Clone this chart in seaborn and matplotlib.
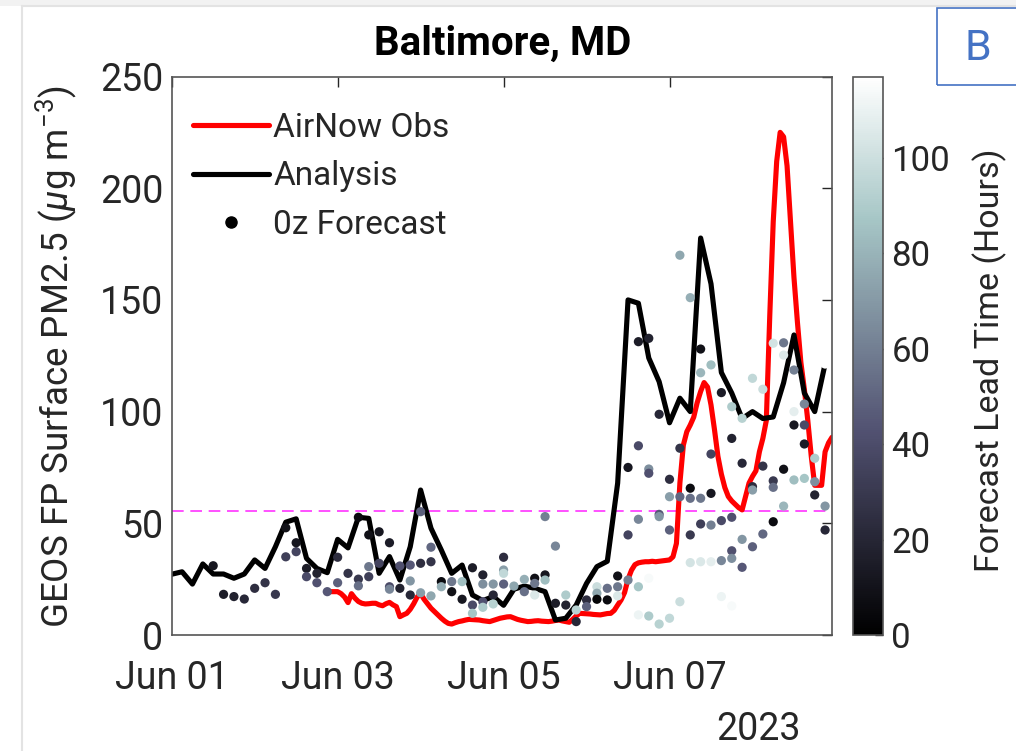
import pandas as pd
import matplotlib
matplotlib.use("Agg")
import matplotlib.pyplot as plt
import matplotlib.dates as mdates
from matplotlib.colors import Normalize
from matplotlib.cm import ScalarMappable
from matplotlib.lines import Line2D
from matplotlib.patches import Rectangle
import seaborn as sns

# data
analysis_start = "2023-06-01 00:00"   # 3-hourly GEOS FP analysis
analysis_pm25 = [27.2, 28.3, 22.8, 31.8, 27.3, 27.3, 25.4, 27.3, 33.6, 29.8,
                 39.5, 50.5, 52.0, 34.3, 29.8, 27.9, 42.8, 39.0, 52.7, 52.2,
                 27.6, 35.1, 24.6, 39.5, 64.9, 47.8, 38.0, 27.6, 31.3, 17.9,
                 15.4, 17.2, 13.3, 20.5, 21.9, 20.9, 19.4, 6.7, 7.5, 13.4,
                 23.1, 30.6, 33.0, 68.0, 150.0, 148.5, 124.0, 113.4, 95.0, 106.0,
                 100.0, 177.7, 157.2, 117.5, 108.3, 96.9, 100.0, 96.9, 97.6, 112.9,
                 134.3, 108.3, 100.0, 121.3]

obs_start = "2023-06-02 22:00"        # hourly AirNow observations
obs_pm25 = [19.4, 19.4, 19.4, 18.5, 17.0, 14.5, 18.5, 16.5, 15.0, 14.2,
            13.9, 14.0, 14.2, 14.2, 13.5, 13.1, 14.0, 14.6, 13.5, 12.7,
            8.2, 9.0, 9.7, 11.5, 14.0, 17.0, 18.5, 16.0, 14.0, 12.0,
            10.5, 9.0, 7.5, 6.2, 5.2, 4.9, 5.5, 6.0, 6.3, 6.7,
            7.0, 6.9, 6.8, 6.7, 6.4, 6.2, 6.0, 6.5, 7.0, 7.5,
            7.8, 8.1, 8.2, 7.6, 7.0, 6.6, 6.3, 6.0, 6.1, 6.3,
            6.4, 6.2, 6.1, 6.0, 6.2, 6.5, 6.7, 6.3, 6.0, 5.7,
            7.0, 8.5, 9.7, 9.6, 9.5, 9.4, 9.2, 9.1, 9.0, 9.3,
            9.6, 9.7, 11.0, 13.4, 15.7, 19.0, 25.0, 29.0, 31.5, 32.3,
            32.6, 32.8, 32.8, 33.0, 32.8, 33.0, 33.2, 33.4, 33.6, 35.0,
            41.0, 68.0, 85.0, 91.0, 94.0, 97.5, 104.0, 109.0, 113.0, 111.0,
            103.0, 92.0, 80.0, 72.0, 66.0, 62.0, 60.0, 58.5, 57.0, 56.0,
            62.0, 68.0, 71.0, 73.5, 82.0, 88.0, 96.0, 143.0, 185.0, 212.0,
            225.0, 223.0, 210.0, 185.0, 160.0, 140.0, 122.0, 110.0, 96.0, 80.0,
            67.0, 67.0, 67.0, 82.0, 86.0, 88.5]

# 0z forecasts: valid hour since Jun 01 00z, value, lead time (hours)
fc_hour = [12, 15, 18, 21, 24, 27, 30, 33, 33, 36, 36, 39, 39, 42, 42, 45,
           48, 48, 51, 54, 54, 54, 57, 57, 57, 60, 60, 63, 63, 63, 66, 66,
           69, 69, 69, 72, 72, 72, 75, 75, 75, 78, 78, 81, 81, 84, 84, 87,
           87, 87, 90, 90, 90, 90, 93, 93, 93, 96, 96, 96, 96, 99, 102, 102,
           105, 105, 105, 108, 108, 108, 111, 111, 114, 114, 117, 117, 120, 120,
           123, 123, 123, 126, 126, 129, 129, 129, 132, 132, 132,
           135, 135, 135, 135, 135, 138, 138, 138, 138, 138, 141, 141, 141, 141,
           144, 144, 144, 144, 147, 147, 147, 147, 150, 150, 150, 150, 150,
           153, 153, 153, 153, 153, 156, 156, 156, 156, 156, 159, 159, 159, 159,
           162, 162, 162, 162, 162, 162, 165, 165, 165, 165, 168, 168, 168, 168,
           171, 171, 171, 174, 174, 174, 174, 177, 177, 177, 177,
           180, 180, 180, 180, 183, 183, 183, 183, 186, 186, 186, 189, 189, 189]
fc_pm25 = [31.0, 18.2, 17.2, 16.1, 20.9, 23.4, 18.2, 35.0, 48.0, 37.3, 41.3, 29.8, 26.1, 27.6, 23.4, 19.4,
           34.8, 23.4, 27.6, 52.7, 25.0, 22.0, 44.8, 30.6, 26.1, 46.2, 32.1, 41.3, 21.6, 20.5, 30.9, 20.9,
           31.3, 24.2, 17.9, 32.1, 55.2, 18.9, 39.3, 32.8, 17.5, 23.9, 21.6, 23.9, 19.4, 23.9, 16.0, 30.1,
           13.4, 9.7, 26.9, 22.8, 14.9, 12.4, 22.8, 17.9, 13.9, 34.8, 29.1, 27.6, 22.8, 21.9, 24.9, 19.4,
           25.4, 23.1, 17.9, 53.0, 26.9, 24.6, 39.8, 14.2, 17.9, 13.4, 6.0, 11.2, 15.7, 12.7,
           21.6, 18.7, 16.0, 20.9, 15.7, 26.4, 21.6, 17.5, 75.0, 44.8, 24.6,
           131.3, 84.7, 51.8, 21.6, 9.0, 132.8, 74.3, 72.4, 25.4, 8.5, 98.8, 54.0, 53.0, 4.9,
           69.7, 61.9, 47.0, 7.5, 170.0, 83.6, 61.9, 14.9, 151.0, 65.7, 61.2, 44.8, 32.4,
           128.0, 117.4, 61.2, 49.7, 32.8, 120.9, 63.4, 81.0, 49.2, 32.8, 108.5, 51.2, 33.3, 17.2,
           102.2, 88.0, 52.7, 37.7, 34.3, 13.0, 97.0, 76.9, 42.8, 30.3, 114.9, 66.4, 64.9, 39.5,
           110.0, 75.6, 45.2, 130.6, 69.0, 66.1, 50.7, 130.8, 125.3, 74.2, 57.7,
           118.6, 100.0, 94.0, 69.4, 103.4, 94.0, 85.5, 70.1, 79.1, 68.6, 62.7, 121.3, 57.7, 47.0]
fc_lead = [12, 15, 18, 21, 24, 27, 30, 33, 9, 36, 12, 15, 39, 18, 42, 45,
           24, 48, 27, 6, 30, 54, 9, 57, 33, 12, 36, 15, 39, 63, 42, 18,
           45, 69, 21, 24, 48, 72, 51, 27, 75, 6, 78, 57, 9, 84, 12, 15,
           39, 87, 18, 66, 42, 90, 69, 21, 93, 24, 72, 96, 48, 75, 78, 54,
           9, 57, 105, 60, 12, 84, 63, 15, 90, 18, 21, 93, 24, 48,
           99, 75, 3, 54, 6, 9, 57, 105, 12, 36, 60,
           15, 39, 63, 87, 111, 18, 66, 42, 114, 90, 21, 45, 69, 93,
           24, 72, 48, 96, 75, 27, 51, 99, 78, 6, 54, 30, 102,
           9, 81, 57, 33, 105, 84, 12, 36, 60, 108, 15, 39, 63, 111,
           90, 18, 42, 42, 66, 114, 93, 21, 69, 45, 96, 24, 72, 48,
           99, 27, 51, 102, 30, 54, 6, 57, 105, 9, 81,
           60, 108, 12, 84, 63, 39, 15, 87, 90, 66, 18, 117, 69, 21]

threshold = 55.5   # dashed magenta reference line
lead_max = 117

# build tables
t0 = pd.Timestamp("2023-06-01 00:00")
analysis = pd.DataFrame({
    "time": pd.date_range(analysis_start, periods=len(analysis_pm25), freq="3h"),
    "pm25": analysis_pm25})
obs = pd.DataFrame({
    "time": pd.date_range(obs_start, periods=len(obs_pm25), freq="h"),
    "pm25": obs_pm25})
forecast = pd.DataFrame({
    "time": [t0 + pd.Timedelta(hours=h) for h in fc_hour],
    "pm25": fc_pm25,
    "lead": fc_lead})

sns.set_theme(style="white")
plt.rcParams["font.family"] = ["Roboto", "DejaVu Sans"]
plt.rcParams["mathtext.fontset"] = "custom"
plt.rcParams["mathtext.rm"] = "Roboto"
plt.rcParams["mathtext.it"] = "Roboto:italic"
plt.rcParams["mathtext.bf"] = "Roboto:bold"

W, H = 1016, 751
fig = plt.figure(figsize=(W / 100, H / 100), dpi=100)
ax = fig.add_axes([171.7 / W, 1 - 635 / H, (832 - 171.7) / W, (635 - 76.5) / H])

ink = "#262626"
norm = Normalize(0, lead_max)

ax.axhline(threshold, color="#ff33ff", lw=1.2, dashes=(7, 4), zorder=1)
sns.lineplot(data=obs, x="time", y="pm25", color="red", lw=3.7,
             estimator=None, ax=ax, zorder=2)
sns.lineplot(data=analysis, x="time", y="pm25", color="black", lw=3.7,
             estimator=None, ax=ax, zorder=2)
sns.scatterplot(data=forecast, x="time", y="pm25", hue="lead", palette="bone",
                hue_norm=norm, s=44, linewidth=0, marker="o", legend=False,
                ax=ax, zorder=3)

ax.set_xlim(t0, pd.Timestamp("2023-06-08 23:00"))
ax.set_ylim(0, 250)
ax.set_yticks([0, 50, 100, 150, 200, 250])
ax.xaxis.set_major_locator(mdates.DayLocator(bymonthday=[1, 3, 5, 7]))
ax.xaxis.set_major_formatter(mdates.DateFormatter("%b %d"))
ax.set_xlabel("")
ax.set_ylabel("")
ax.tick_params(axis="both", direction="in", length=7, width=1, color=ink,
               labelcolor=ink, labelsize=27, top=True, right=True)
ax.tick_params(axis="x", pad=18)
ax.tick_params(axis="y", pad=6)
for sp in ax.spines.values():
    sp.set_color("#555555")
    sp.set_linewidth(1.2)

handles = [Line2D([], [], color="red", lw=3.7),
           Line2D([], [], color="black", lw=3.7),
           Line2D([], [], color="black", lw=0, marker="o", markersize=8)]
ax.legend(handles, ["AirNow Obs", "Analysis", "0z Forecast"], loc="upper left",
          bbox_to_anchor=(0.032, 0.937), frameon=False, fontsize=24,
          handlelength=2.3, handletextpad=0.12, labelspacing=0.5,
          borderpad=0, borderaxespad=0)

# colorbar for forecast lead time
cax = fig.add_axes([853 / W, 1 - 635 / H, 30 / W, (635 - 76.5) / H])
cb = fig.colorbar(ScalarMappable(norm=norm, cmap="bone"), cax=cax)
cb.set_ticks([0, 20, 40, 60, 80, 100])
cb.ax.tick_params(direction="in", length=6, width=1, color=ink,
                  labelcolor=ink, labelsize=25, pad=6)
cb.outline.set_edgecolor("#555555")
cb.outline.set_linewidth(1.2)

fig.text(503 / W, 1 - 44 / H, "Baltimore, MD", ha="center", va="center",
         fontsize=29, fontweight="bold", color="black")
fig.text(56 / W, 1 - 357 / H, r"GEOS FP Surface PM2.5 ($\mu$g m$^{-3}$)",
         rotation=90, ha="center", va="center", fontsize=26.5, color=ink)
fig.text(990 / W, 1 - 360 / H, "Forecast Lead Time (Hours)",
         rotation=90, ha="center", va="center", fontsize=24.5, color=ink)
fig.text(759 / W, 1 - 730 / H, "2023", ha="center", va="center",
         fontsize=27, color=ink)

# panel tag and screenshot frame
fig.patches.append(Rectangle((937 / W, 1 - 85 / H), 100 / W, 77 / H,
                             transform=fig.transFigure, fill=False,
                             edgecolor="#4472c4", lw=1.2))
fig.text(978 / W, 1 - 49 / H, "B", ha="center", va="center", fontsize=31,
         color="#4472c4")
fig.patches.append(Rectangle((0, 1 - 6 / H), 1, 6 / H, transform=fig.transFigure,
                             facecolor="#f2f2f2", edgecolor="none"))
fig.add_artist(Line2D([22 / W, 22 / W], [0, 1 - 6 / H], color="#e3e3e3", lw=1.5))
fig.add_artist(Line2D([22 / W, 1], [1 - 6 / H, 1 - 6 / H], color="#e3e3e3", lw=1.5))

fig.savefig("out.png", dpi=100)
